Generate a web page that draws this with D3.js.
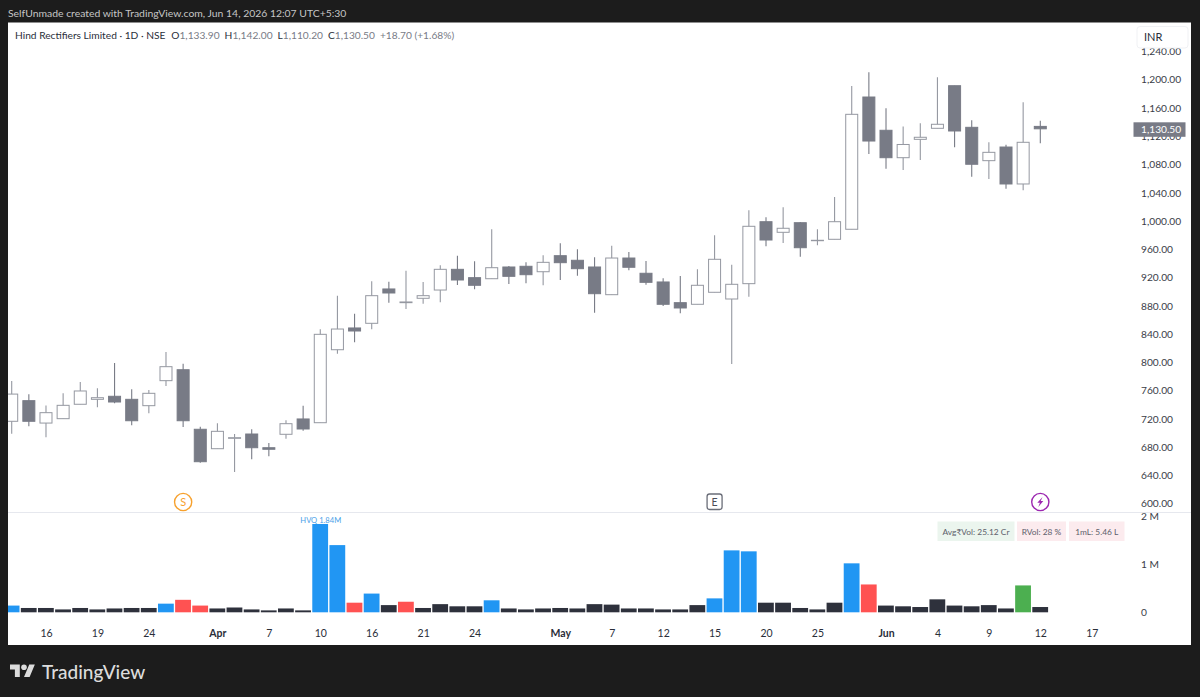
<!DOCTYPE html>
<html>
<head>
<meta charset="utf-8">
<script src="https://cdn.jsdelivr.net/npm/d3@7"></script>
<style>
html, body { margin: 0; padding: 0; background: #1c1c1c; }
svg { display: block; }
text { font-family: Lato, sans-serif; }
</style>
</head>
<body>
<svg id="chart" width="1200" height="697"></svg>
<script>
// daily OHLC, oldest first
const opens = [716.5,745.7,714,720.2,740.6,747.6,751.9,747.6,738.6,774,789.5,705.2,677.7,692.4,698.5,679.1,698.1,719.8,714.5,817.8,848.6,855.2,903.8,884.4,890.6,902.3,931.6,919.8,918.3,934.9,935.9,928.2,950.9,944.4,934.9,895.7,947.6,926,913.7,884.4,882.1,899.1,889.6,911.3,999,984,997.6,972.1,974.1,988.3,1175.5,1128.4,1089.6,1115.6,1131.2,1191.5,1132.6,1085.4,1104.7,1052.4,1133.9];
const highs = [773.5,754.7,739,756.1,772.1,763.2,799,761.8,760.8,814.6,798,708.9,713.7,698.5,705.2,685.8,717.9,738.6,846.7,894.3,868.8,914.7,914.1,929.7,913.7,937.3,950.9,943,988.3,936.3,941.5,951.5,968.4,960,948.6,965,956.1,943.4,918.9,922.2,931.6,979.8,938.2,1015.1,1005.2,1019.4,998.6,988.3,1034,1191.1,1210.5,1159.5,1133.8,1138.3,1203.4,1191.5,1142.5,1111.4,1108,1168,1142];
const lows = [699,709.4,694,720.2,740.6,736.3,742,710.8,727.8,766.5,708.4,657.9,677.7,644.7,662.7,667,691.9,703.2,714.5,812.2,828.3,846.7,884.4,875.4,883,884.9,909.4,903.3,918.3,910.8,911.8,909,916.5,922.6,870.2,895.7,930.2,909.8,879.7,869.4,882.1,899.1,797.6,892.9,964.2,968.9,949.5,965.6,974.1,988.3,1094.8,1074,1072.2,1086.3,1131.2,1104.3,1062.7,1059.4,1045.7,1043.5,1110.2];
const closes = [755,716.5,728.7,739.1,759.4,749.9,743.8,717.3,756.1,793.8,717.3,659.3,702.3,693.3,679.1,676.9,713.1,705.6,839.6,847.1,844.3,894.3,898.1,885.4,894.3,931.6,916.5,909,933.9,921.7,924,941.5,941,932.5,897.1,947.6,934.5,913.2,882.1,876.9,909,945.8,910.4,992.5,973.1,989.7,962.2,972.7,999,1151,1113.2,1089.6,1108.3,1118.5,1136.9,1127.4,1080.3,1097.2,1052.4,1111.4,1130.5];

// volume in millions and the kind of bar
const volumes = [0.14,0.09,0.09,0.06,0.09,0.06,0.08,0.09,0.09,0.18,0.26,0.14,0.08,0.10,0.06,0.04,0.08,0.04,1.84,1.40,0.20,0.39,0.15,0.22,0.09,0.17,0.125,0.125,0.25,0.08,0.06,0.08,0.09,0.08,0.17,0.16,0.08,0.08,0.06,0.06,0.15,0.29,1.29,1.27,0.20,0.20,0.09,0.06,0.20,1.02,0.58,0.14,0.125,0.11,0.27,0.14,0.125,0.15,0.08,0.56,0.11];
const volumeKinds = ["hi","n","n","n","n","n","n","n","n","hi","dn","dn","n","n","n","n","n","n","hi","hi","dn","hi","n","dn","n","n","n","n","hi","n","n","n","n","n","n","n","n","n","n","n","n","hi","hi","hi","n","n","n","n","n","hi","dn","n","n","n","n","n","n","n","n","up","n"];

const tickIndex = [2,5,8,12,15,18,21,24,27,32,35,38,41,44,47,51,54,57,60,63];
const tickLabels = ["16","19","24","Apr","7","10","16","21","24","May","7","12","15","20","25","Jun","4","9","12","17"];
const monthLabels = ["Apr","May","Jun"];

const priceTicks = [600,640,680,720,760,800,840,880,920,960,1000,1040,1080,1120,1160,1200,1240];
const volumeTicks = [0,1,2];
const lastClose = 1130.5;

const legendValues = [["O","1,133.90"],["H","1,142.00"],["L","1,110.20"],["C","1,130.50"]];

const barColor = {n: "#2e313c", hi: "#2196f3", dn: "#ff5252", up: "#4caf50"};
const badgeLabels = ["Avg₹Vol: 25.12 Cr","RVol: 28 %","1mL: 5.46 L"];

const svg = d3.select("#chart");
const font = "Lato, sans-serif";

svg.append("rect").attr("x", 8).attr("y", 22.5).attr("width", 1183).attr("height", 622.5).attr("fill", "#fff");

const defs = svg.append("defs");
defs.append("clipPath").attr("id", "priceClip").append("rect").attr("x", 8).attr("y", 23).attr("width", 1124).attr("height", 489);
defs.append("clipPath").attr("id", "volClip").append("rect").attr("x", 8).attr("y", 513).attr("width", 1183).attr("height", 110);

const x = d3.scaleLinear().domain([0, 60]).range([11.7, 1040.3]);
const y = d3.scaleLinear().domain([600, 1200]).range([503.6, 79.7]);
const yVol = d3.scaleLinear().domain([0, 1]).range([612.3, 564.3]);

// pane divider
svg.append("line").attr("x1", 8).attr("x2", 1191).attr("y1", 512.5).attr("y2", 512.5).attr("stroke", "#e6e8ee");

// candles
const candles = svg.append("g").attr("clip-path", "url(#priceClip)");
const idx = d3.range(opens.length);
candles.selectAll(".wick").data(idx).enter().append("line")
    .attr("class", "wick")
    .attr("x1", i => x(i)).attr("x2", i => x(i))
    .attr("y1", i => y(highs[i])).attr("y2", i => y(lows[i]))
    .attr("stroke", i => closes[i] >= opens[i] ? "#9598a1" : "#787b86")
    .attr("stroke-width", 1.1);
candles.selectAll(".body").data(idx).enter().append("rect")
    .attr("class", "body")
    .attr("x", i => x(i) - 6)
    .attr("width", 12)
    .attr("y", i => y(Math.max(opens[i], closes[i])))
    .attr("height", i => Math.abs(y(opens[i]) - y(closes[i])))
    .attr("fill", i => closes[i] >= opens[i] ? "#fff" : "#787b86")
    .attr("stroke", i => closes[i] >= opens[i] ? "#9598a1" : "#787b86")
    .attr("stroke-width", 1);

// volume bars
const bars = svg.append("g").attr("clip-path", "url(#volClip)");
bars.selectAll(".vol").data(idx).enter().append("rect")
    .attr("class", "vol")
    .attr("x", i => x(i) - 8)
    .attr("width", 15.8)
    .attr("y", i => yVol(volumes[i]))
    .attr("height", i => yVol(0) - yVol(volumes[i]))
    .attr("fill", i => barColor[volumeKinds[i]]);

// axes
const priceAxis = svg.append("g").attr("transform", "translate(1141,0)")
    .call(d3.axisRight(y).tickValues(priceTicks).tickSize(0).tickPadding(0).tickFormat(d3.format(",.2f")));
priceAxis.select(".domain").remove();
priceAxis.selectAll("text").attr("font-size", 10.2).attr("fill", "#3a3d47").style("font-family", font);

const volClipWrap = svg.append("g").attr("clip-path", "url(#volClip)");
const volAxis = volClipWrap.append("g").attr("transform", "translate(1141,0)")
    .call(d3.axisRight(yVol).tickValues(volumeTicks).tickSize(0).tickPadding(0).tickFormat(d => d === 0 ? "0" : d + " M"));
volAxis.select(".domain").remove();
volAxis.selectAll("text").attr("font-size", 10.2).attr("fill", "#3a3d47").style("font-family", font);

const timeAxis = svg.append("g").attr("transform", "translate(0,629.5)")
    .call(d3.axisBottom(x).tickValues(tickIndex).tickSize(0).tickPadding(0).tickFormat((d, i) => tickLabels[i]));
timeAxis.select(".domain").remove();
timeAxis.selectAll("text")
    .attr("font-size", 10.5)
    .attr("dy", "0.71em")
    .attr("y", 0)
    .attr("fill", "#2a2e39")
    .attr("font-weight", (d, i) => monthLabels.includes(tickLabels[i]) ? 700 : 400)
    .style("font-family", font);

// currency box and last price tag
svg.append("rect").attr("x", 1137).attr("y", 26.5).attr("width", 51).attr("height", 21.5).attr("rx", 3)
    .attr("fill", "#fff").attr("stroke", "#f0f1f4");
svg.append("text").attr("x", 1144).attr("y", 41).attr("font-size", 11).attr("fill", "#2a2e39").text("INR");

svg.append("rect").attr("x", 1133.5).attr("y", y(lastClose) - 6.5).attr("width", 52).attr("height", 14.5).attr("fill", "#787b86");
svg.append("text").attr("x", 1141).attr("y", y(lastClose) + 4.3).attr("font-size", 10.2).attr("fill", "#fff").text(d3.format(",.2f")(lastClose));

// header and legend
svg.append("text").attr("x", 8).attr("y", 17).attr("font-size", 10.4).attr("fill", "#c6c6c6")
    .text("SelfUnmade created with TradingView.com, Jun 14, 2026 12:07 UTC+5:30");

const legend = svg.append("text").attr("x", 15).attr("y", 39).attr("font-size", 10.2).attr("fill", "#2a2e39");
legend.append("tspan").text("Hind Rectifiers Limited · 1D · NSE");
legendValues.forEach((d, i) => {
    legend.append("tspan").attr("dx", i ? 5 : 6).attr("fill", "#2a2e39").text(d[0]);
    legend.append("tspan").attr("fill", "#787b86").text(d[1]);
});
legend.append("tspan").attr("dx", 5).attr("fill", "#787b86").text("+18.70 (+1.68%)");

// event markers
svg.append("circle").attr("cx", x(10)).attr("cy", 502).attr("r", 8.6).attr("fill", "#fff").attr("stroke", "#f7a12d").attr("stroke-width", 1.4);
svg.append("text").attr("x", x(10)).attr("y", 506).attr("text-anchor", "middle").attr("font-size", 11).attr("fill", "#f7a12d").text("S");

svg.append("rect").attr("x", x(41) - 7.5).attr("y", 494).attr("width", 15).attr("height", 15.5).attr("rx", 2.5).attr("fill", "#fff").attr("stroke", "#6a6d78").attr("stroke-width", 1.3);
svg.append("text").attr("x", x(41)).attr("y", 506).attr("text-anchor", "middle").attr("font-size", 10.5).attr("fill", "#4a4d58").text("E");

svg.append("circle").attr("cx", x(60)).attr("cy", 502).attr("r", 8.6).attr("fill", "#fff").attr("stroke", "#9c27b0").attr("stroke-width", 1.4);
svg.append("path").attr("transform", `translate(${x(60)},502)`)
    .attr("d", "M2.2,-5 L-3,0.8 L-0.4,0.8 L-2,5 L3,-1 L0.4,-1 Z").attr("fill", "#9c27b0");

svg.append("text").attr("x", x(18) + 0.5).attr("y", 522.5).attr("text-anchor", "middle").attr("font-size", 7.6).attr("fill", "#4a9fe8").text("HVQ 1.84M");

// stat badges
const badgeX = [937.5, 1017, 1069];
const badgeW = [77, 49, 55.5];
const badgeFill = ["#ebf5ee", "#fcebee", "#fcebee"];
const badges = svg.selectAll(".badge").data(badgeLabels).enter().append("g").attr("class", "badge");
badges.append("rect").attr("x", (d, i) => badgeX[i]).attr("y", 521.5).attr("width", (d, i) => badgeW[i]).attr("height", 19.5).attr("fill", (d, i) => badgeFill[i]);
badges.append("text").attr("x", (d, i) => badgeX[i] + badgeW[i] / 2).attr("y", 534.5).attr("text-anchor", "middle").attr("font-size", 8.4).attr("fill", "#5d606b").text(d => d);

// footer logo
const logo = svg.append("g").attr("transform", "translate(10,661.7) scale(0.7)").attr("fill", "#dcdcdc");
logo.append("path").attr("d", "M14 22H7V11H0V4h14v18zM28 22h-8l7.5-18h8L28 22z");
logo.append("circle").attr("cx", 20).attr("cy", 8).attr("r", 4);
svg.append("text").attr("x", 42).attr("y", 678.5).attr("font-size", 19).attr("font-weight", 500).attr("fill", "#dcdcdc").text("TradingView");
</script>
</body>
</html>
